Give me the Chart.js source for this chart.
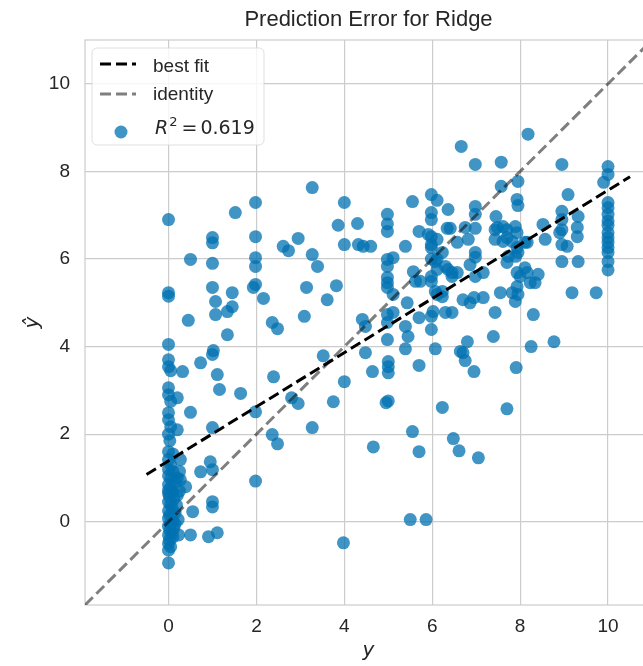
<!DOCTYPE html>
<html><head><meta charset="utf-8">
<script src="https://cdn.jsdelivr.net/npm/chart.js@4/dist/chart.umd.min.js"></script>
<style>
html,body{margin:0;padding:0;background:#fff;overflow:hidden;width:643px;height:666px}
#wrap{width:643px;height:666px;overflow:hidden;position:relative}
canvas{display:block}
</style></head><body>
<div id="wrap"><canvas id="c" width="660" height="666"></canvas></div>
<script>
// ---- data ----
const actualValues = [
 0,0,0,0,0,0,0.05,0,0,0.05,0,0,0.05,0,0.03,0,0.1,
 0,0.05,0,0.1,0,0.05,0.15,0,0.05,0.1,0,0.02,0.12,0,0.05,0.08,0,0.15,0.03,0,0.1,0.05,0,0.12,0.03,0.08,0,0.1,0.02,0,0.05,0,0,0.2,0.18,0.2,0.25,0.22,0,
 0.27,0.39,0.55,0.23,0.5,0.73,0.2,0.32,0.5,0.2,0.45,0.73,0.5,0.27,0.25,0.15,
 1.0,1.0,1.0,1.0,1.07,1.07,1.34,1.45,1.45,1.34,1.02,1.0,1.11,1.16,1.64,1.0,0.95,1.0,1.0,1.0,0.91,1.11,1.52,
 1.98,1.98,1.98,1.98,1.98,1.93,2.16,2.36,2.48,1.98,1.98,2.36,2.48,2.39,2.61,2.73,2.95,2.8,2.95,
 3.27,3.27,3.39,3.14,3.61,3.82,3.09,3.86,3.27,3.52,3.75,
 4.0,4.0,4.3,4.32,4.43,4.6,4.41,4.48,4.48,4.0,3.98,4.64,4.66,
 4.98,4.98,4.98,4.98,5.11,4.98,4.98,4.98,4.98,5.11,5.43,5.11,4.98,4.98,5.39,5.45,4.98,5.0,5.0,5.0,4.95,5.0,5.39,5.7,5.55,5.7,5.5,5.39,5.55,5.7,5.57,5.62,5.73,5.7,
 5.98,6.11,5.98,5.98,5.98,5.98,6.11,5.98,6.23,5.98,6.11,6.07,6.3,6.11,6.36,5.98,5.98,6.45,6.45,6.07,6.23,6.11,6.23,5.98,6.02,6.3,6.45,5.98,6.07,6.23,6.48,6.61,5.86,5.91,6.36,6.34,6.41,6.57,6.57,6.66,
 6.98,6.98,6.98,6.75,6.98,6.82,6.98,6.98,6.86,6.98,7.16,6.7,6.86,6.95,7.16,6.8,6.64,6.7,6.75,6.95,7.05,7.39,7.43,7.55,7.43,7.43,7.45,7.57,7.57,7.61,7.48,7.7,7.73,7.7,7.7,7.82,7.82,7.61,7.7,
 8.18,7.95,7.93,7.95,7.93,7.89,7.93,8.16,8.11,7.9,7.95,8.0,8.16,8.11,8.41,8.23,8.34,7.93,7.95,7.89,8.3,8.25,7.91,8.77,8.52,8.57,7.93,
 8.95,9.09,8.95,8.95,8.95,8.9,8.95,9.07,8.95,9.32,9.3,9.3,9.32,9.18,9.73,
 10,10,9.9,10,10,10,10,10,10,10,10,10,10,10,10
];
const predictedValues = [
 6.9,5.23,5.15,4.05,3.7,3.54,3.45,3.06,2.9,2.75,2.49,2.33,2.17,2.0,1.85,1.6,1.55,
 1.42,1.3,1.2,1.15,1.05,0.98,0.9,0.85,0.78,0.7,0.65,0.58,0.52,0.45,0.4,0.32,0.25,0.2,0.15,0.08,0.02,-0.05,-0.1,-0.15,-0.2,-0.25,-0.3,-0.35,-0.42,-0.5,-0.57,-0.65,0.72,0.6,0.38,1.0,1.15,0.05,-0.94,
 1.42,0.8,0.23,-0.3,-0.3,1.14,2.83,3.43,2.5,2.1,4.6,3.63,5.99,0.96,0.7,-0.05,
 6.49,6.37,5.9,5.35,5.03,4.73,4.8,4.91,5.23,4.27,3.91,3.82,3.36,3.02,2.93,2.15,1.37,1.19,0.46,0.34,-0.34,-0.25,7.06,
 7.29,6.51,6.03,5.83,5.42,5.35,5.1,4.55,4.41,2.51,0.93,1.99,1.78,3.31,6.29,6.19,6.47,2.83,2.7,
 7.63,6.1,5.83,5.35,5.07,5.39,4.69,6.77,2.15,3.79,2.74,
 7.29,6.33,6.81,6.33,6.29,6.29,4.62,4.46,3.86,3.2,-0.48,3.43,1.71,
 7.02,6.8,6.63,5.99,6.03,5.83,5.58,5.46,5.35,5.19,5.0,4.78,4.73,4.55,4.46,4.23,4.16,3.66,3.54,3.4,2.72,2.76,3.95,3.57,2.06,1.6,0.05,6.29,7.31,6.63,5.71,5.49,5.49,4.66,
 7.47,7.34,7.06,6.9,6.51,6.33,6.45,6.26,6.15,6.0,6.0,5.94,5.83,5.76,5.76,5.6,5.49,5.6,5.69,5.26,5.26,5.19,5.14,4.69,4.8,4.78,4.78,4.39,3.95,2.61,1.9,1.62,0.05,6.56,7.13,6.7,6.7,6.38,5.69,8.57,
 8.16,7.2,7.02,6.72,6.7,6.45,6.15,6.04,5.87,5.6,5.69,5.07,5.0,5.12,5.12,4.11,3.89,3.86,3.68,3.43,1.46,4.23,4.78,5.23,6.67,6.45,6.97,8.21,7.66,6.4,6.72,6.67,6.06,5.92,2.58,5.23,6.4,6.74,6.49,
 8.85,7.77,7.36,7.22,6.6,6.74,6.26,6.38,6.38,6.06,6.15,5.6,5.69,5.8,5.65,5.46,5.46,5.37,5.19,5.03,4.73,4.0,3.52,4.11,6.79,6.45,5.69,
 8.16,7.47,7.09,6.9,6.67,6.6,6.33,6.29,5.94,6.97,6.72,6.51,5.94,5.23,5.23,
 8.11,7.93,7.75,7.29,7.17,7.02,6.87,6.77,6.6,6.49,6.38,6.26,6.15,5.94,5.75
];
const xTickValues = [0, 2, 4, 6, 8, 10];
const yTickValues = [0, 2, 4, 6, 8, 10];
const axisLimits = [-1.9, 11.0];
const bestFitSlope = 0.618;
const bestFitIntercept = 1.39;
const bestFitRange = [-0.5, 10.5];
const titleText = 'Prediction Error for Ridge';
const xAxisLabel = 'y';
const yAxisLabel = 'ŷ';
const legendLabels = ['best fit', 'identity', 'R² = 0.619'];

// ---- build ----
const POINT_COLOR = 'rgba(0,114,178,0.75)';
const points = actualValues.map((v, i) => ({x: v, y: predictedValues[i]}));
const fitLine = bestFitRange.map(x => ({x: x, y: bestFitIntercept + bestFitSlope * x}));
const identityLine = axisLimits.map(v => ({x: v, y: v}));

const framePlugin = {
  id: 'frame',
  beforeDatasetsDraw(chart) {
    const {ctx, chartArea: a} = chart;
    ctx.save();
    ctx.strokeStyle = '#cccccc';
    ctx.lineWidth = 1.2;
    ctx.strokeRect(a.left, a.top, a.right - a.left, a.bottom - a.top);
    ctx.restore();
  }
};

const legendPlugin = {
  id: 'legendBox',
  afterDraw(chart) {
    const {ctx, chartArea: a} = chart;
    const x0 = a.left + 7, y0 = a.top + 8, w = 172, h = 97;
    ctx.save();
    ctx.beginPath();
    ctx.roundRect(x0, y0, w, h, 5);
    ctx.fillStyle = 'rgba(255,255,255,0.8)';
    ctx.fill();
    ctx.strokeStyle = 'rgba(215,215,215,0.8)';
    ctx.lineWidth = 1;
    ctx.stroke();
    const ds = chart.data.datasets;
    // line samples
    [[ds[0], y0 + 16], [ds[1], y0 + 46]].forEach(([d, yy]) => {
      ctx.beginPath();
      ctx.setLineDash(d.borderDash);
      ctx.strokeStyle = d.borderColor;
      ctx.lineWidth = d.borderWidth;
      ctx.moveTo(x0 + 8, yy);
      ctx.lineTo(x0 + 44, yy);
      ctx.stroke();
    });
    ctx.setLineDash([]);
    ctx.fillStyle = '#262626';
    ctx.textBaseline = 'alphabetic';
    ctx.font = '19px "Liberation Sans", Arial, sans-serif';
    ctx.fillText(ds[0].label, x0 + 61, y0 + 24);
    ctx.fillText(ds[1].label, x0 + 61, y0 + 52);
    // marker
    ctx.beginPath();
    ctx.fillStyle = POINT_COLOR;
    ctx.arc(x0 + 29, y0 + 84, 6.5, 0, Math.PI * 2);
    ctx.fill();
    // R^2 label (math style)
    const lab = ds[2].label;            // 'R² = 0.619'
    const base = y0 + 86;
    let tx = x0 + 63;
    ctx.fillStyle = '#262626';
    ctx.font = 'italic 19px "DejaVu Sans", sans-serif';
    ctx.fillText(lab[0], tx, base);
    tx += ctx.measureText(lab[0]).width + 1;
    ctx.font = '13px "DejaVu Sans", sans-serif';
    ctx.fillText('2', tx, base - 8);
    tx += ctx.measureText('2').width + 4;
    ctx.font = '19px "DejaVu Sans", sans-serif';
    const rest = lab.slice(1).replace('²', '').trim();   // '= 0.619'
    ctx.fillText('=', tx, base);
    tx += ctx.measureText('=').width + 3;
    ctx.fillText(rest.replace('=', '').trim(), tx, base);
    ctx.restore();
  }
};

const tickFont = {family: '"Liberation Sans", Arial, sans-serif', size: 19};

new Chart(document.getElementById('c'), {
  type: 'scatter',
  data: {
    datasets: [
      {label: legendLabels[0], data: fitLine, showLine: true, borderColor: '#000000', borderWidth: 3,
       borderDash: [11, 5], pointRadius: 0, pointHoverRadius: 0, fill: false, order: 0},
      {label: legendLabels[1], data: identityLine, showLine: true, borderColor: 'rgba(0,0,0,0.5)', borderWidth: 3,
       borderDash: [11, 5], pointRadius: 0, pointHoverRadius: 0, fill: false, order: 1},
      {label: legendLabels[2], data: points, backgroundColor: POINT_COLOR, borderWidth: 0,
       pointRadius: 6.5, pointHoverRadius: 6.5, order: 2}
    ]
  },
  options: {
    responsive: false,
    animation: false,
    devicePixelRatio: 1,
    events: [],
    layout: {padding: {left: 0, right: 8, top: 0, bottom: 0}, autoPadding: false},
    plugins: {
      legend: {display: false},
      tooltip: {enabled: false},
      title: {display: true, text: titleText, fullSize: false, color: '#262626',
              font: {family: '"Liberation Sans", Arial, sans-serif', size: 22, weight: 'normal'},
              padding: {top: 7, bottom: 6.6}}
    },
    scales: {
      x: {
        type: 'linear', min: axisLimits[0], max: axisLimits[1],
        afterFit(s) { s.height = 61; },
        afterBuildTicks(s) { s.ticks = xTickValues.map(v => ({value: v})); },
        grid: {color: '#cccccc', lineWidth: 1.2, drawTicks: false},
        border: {display: false},
        ticks: {padding: 10, color: '#262626', font: tickFont, maxRotation: 0, autoSkip: false},
        title: {display: true, text: xAxisLabel, color: '#262626',
                font: {family: '"DejaVu Sans", sans-serif', size: 20, style: 'italic'},
                padding: {top: 0, bottom: 3}}
      },
      y: {
        type: 'linear', min: axisLimits[0], max: axisLimits[1],
        afterFit(s) { s.width = 85; },
        afterBuildTicks(s) { s.ticks = yTickValues.map(v => ({value: v})); },
        grid: {color: '#cccccc', lineWidth: 1.2, drawTicks: false},
        border: {display: false},
        ticks: {padding: 15, color: '#262626', font: tickFont, autoSkip: false},
        title: {display: true, text: yAxisLabel, color: '#262626',
                font: {family: '"DejaVu Sans", sans-serif', size: 20, style: 'italic'},
                padding: {top: 21, bottom: 0}}
      }
    }
  },
  plugins: [framePlugin, legendPlugin]
});
</script>
</body></html>
